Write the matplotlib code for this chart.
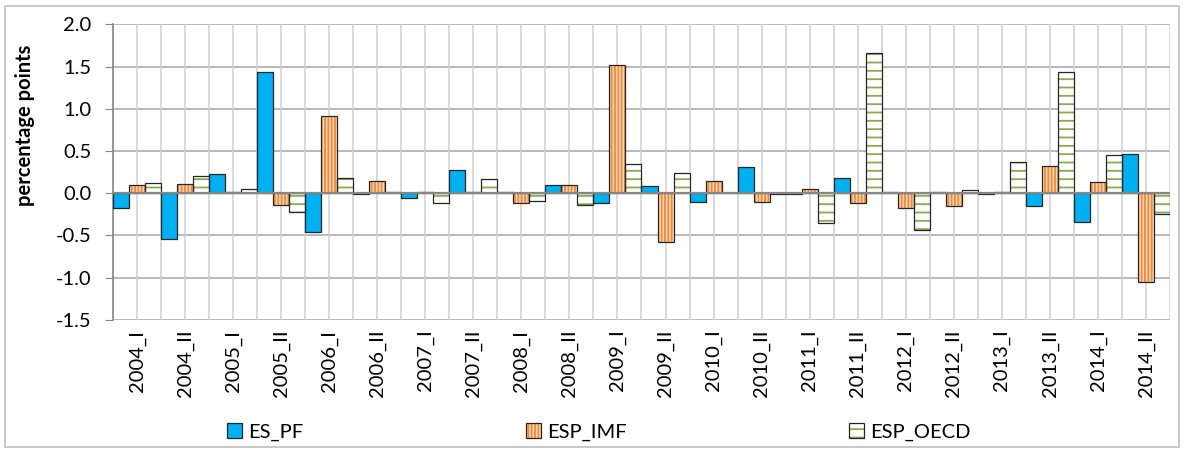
import numpy as np
import matplotlib.pyplot as plt
from matplotlib.patches import Patch, Rectangle
from matplotlib.legend_handler import HandlerTuple

plt.rcParams['font.family'] = ['Lato', 'DejaVu Sans']
plt.rcParams['hatch.linewidth'] = 1.3

periods = ["2004_I", "2004_II", "2005_I", "2005_II", "2006_I", "2006_II",
           "2007_I", "2007_II", "2008_I", "2008_II", "2009_I", "2009_II",
           "2010_I", "2010_II", "2011_I", "2011_II", "2012_I", "2012_II",
           "2013_I", "2013_II", "2014_I", "2014_II"]
es_pf = [-0.18, -0.54, 0.23, 1.44, -0.46, -0.01, -0.06, 0.28, 0.01, 0.10, -0.11,
         0.08, -0.10, 0.31, -0.01, 0.18, 0.01, 0.01, -0.01, -0.15, -0.34, 0.47]
esp_imf = [0.10, 0.11, 0.02, -0.14, 0.92, 0.14, 0.01, 0.01, -0.11, 0.10, 1.52,
           -0.58, 0.14, -0.10, 0.05, -0.11, -0.18, -0.15, 0.01, 0.32, 0.13, -1.05]
esp_oecd = [0.12, 0.20, 0.05, -0.22, 0.18, 0.01, -0.11, 0.17, -0.09, -0.14, 0.35,
            0.24, 0.00, -0.01, -0.35, 1.66, -0.43, 0.04, 0.37, 1.44, 0.45, -0.24]

fig = plt.figure(figsize=(11.84, 4.5), dpi=100)
ax = fig.add_axes([0.0954, 0.289, 0.8928, 0.657])

x = np.arange(len(periods))
w = 1 / 3
edge = '#262626'

# (label, values, face, hatch, hatch colour)
styles = [
    ("ES_PF", es_pf, '#00B0F0', None, '#00B0F0'),
    ("ESP_IMF", esp_imf, '#FCD9B8', '|||||', '#F08A3C'),
    ("ESP_OECD", esp_oecd, 'white', '--', '#8AAA4E'),
]

handles = []
for k, (lab, vals, fc, hat, hc) in enumerate(styles):
    pos = x + (k - 1) * w
    ax.bar(pos, vals, w, color=fc, hatch=hat, edgecolor=hc, linewidth=0, zorder=3)
    ax.bar(pos, vals, w, fill=False, edgecolor=edge, linewidth=0.9, zorder=4)
    h1 = Patch(facecolor=fc, hatch=hat, edgecolor=hc, linewidth=0)
    h2 = Patch(fill=False, edgecolor=edge, linewidth=0.9)
    handles.append((h1, h2))

fs = 14.5
ax.set_xlim(-0.5, len(periods) - 0.5)
ax.set_ylim(-1.5, 2.0)
ax.set_yticks(np.arange(-1.5, 2.01, 0.5))
ax.set_yticklabels(["%.1f" % v for v in np.arange(-1.5, 2.01, 0.5)], fontsize=fs)

ax.set_xticks(x)
ax.set_xticklabels(periods, rotation=90, fontsize=fs, va='top', ha='center')
ax.tick_params(axis='x', length=0, pad=7)
ax.tick_params(axis='y', length=5.5, color='#868686', pad=10)

# grid: horizontal at major ticks, vertical every half category
for yv in np.arange(-1.5, 2.01, 0.5):
    ax.axhline(yv, color='#A6A6A6', lw=1.1, zorder=1)
for xv in np.arange(-0.5, len(periods), 0.5):
    ax.axvline(xv, color='#D0D0D0', lw=1.1, zorder=1)
ax.axhline(0, color='#868686', lw=1.6, zorder=5)

for s in ax.spines.values():
    s.set_visible(False)
ax.spines['left'].set_visible(True)
ax.spines['left'].set_color('#868686')
ax.spines['left'].set_linewidth(1.2)

ax.set_ylabel("percentage points", fontsize=14.5, fontweight='bold')
ax.yaxis.set_label_coords(-0.074, 0.66)

fig.legend(handles, [s[0] for s in styles], handler_map={tuple: HandlerTuple(ndivide=1)},
           loc='center', bbox_to_anchor=(0.506, 0.04), ncol=3, frameon=False,
           fontsize=fs, handlelength=0.75, handleheight=0.75, handletextpad=0.3,
           columnspacing=11.05)

fig.patches.append(Rectangle((0.004, 0.007), 0.992, 0.98, transform=fig.transFigure,
                             fill=False, edgecolor='#BFBFBF', lw=1.2))

fig.savefig("out.png", dpi=100)
